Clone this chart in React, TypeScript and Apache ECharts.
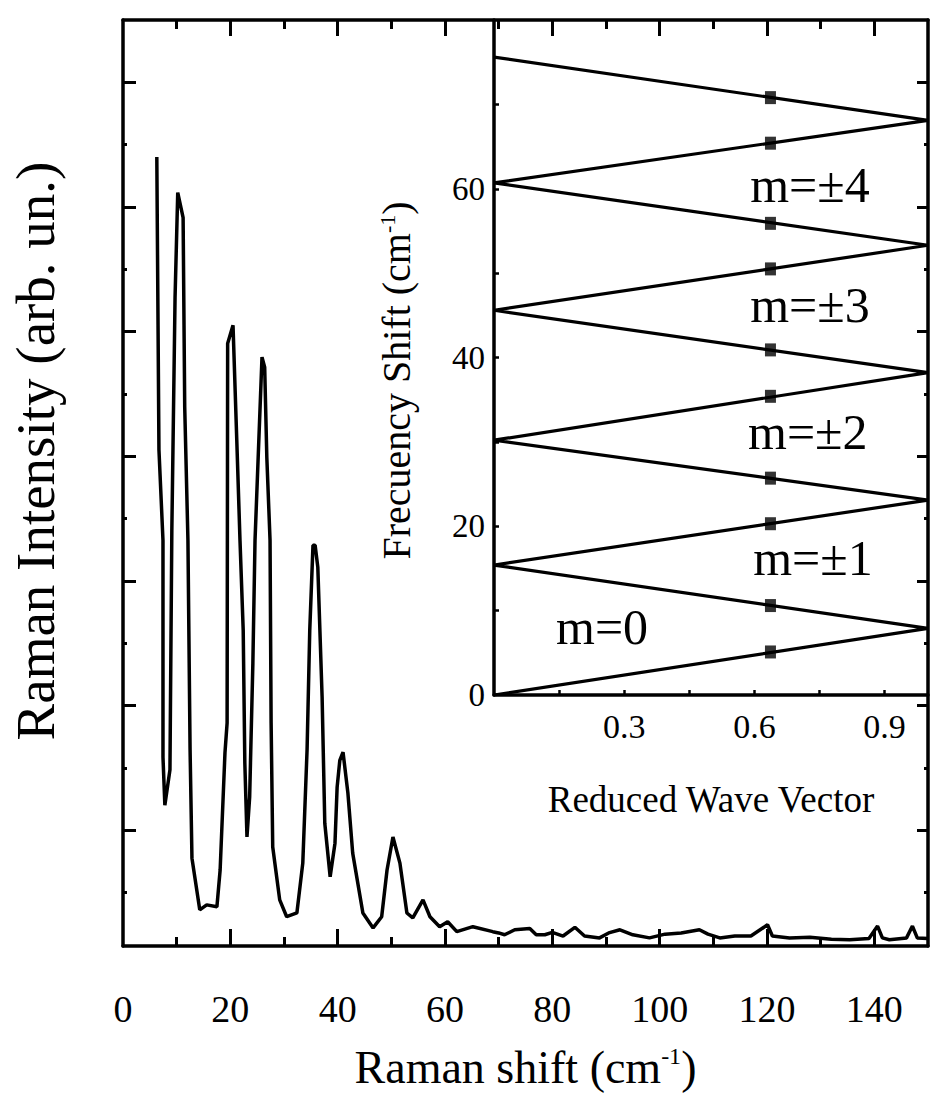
import React, { useEffect, useRef } from "react";
import * as echarts from "echarts";

// ---------- Main spectrum (Raman shift in cm^-1, intensity in arb. units) ----------
const ramanShift = [
  6.3, 6.7, 7.45, 7.45, 7.8, 8.75, 9.1, 9.7, 10.2, 11.2, 11.5, 12.1, 12.5, 12.85, 14.3, 15.6,
  17.5, 18.1, 19.0, 19.4, 19.5, 20.5, 21.2, 21.8, 22.4, 22.7, 23.1, 23.6, 24.2, 24.6, 25.9,
  26.4, 26.8, 27.4, 27.6, 27.9, 29.2, 30.5, 32.4, 33.5, 34.3, 34.8, 35.4, 35.8, 36.3, 37.1,
  37.6, 38.6, 39.5, 39.9, 40.4, 41.0, 41.9, 42.8, 44.7, 46.6, 48.2, 49.2, 50.3, 51.6, 52.9,
  54.0, 55.9, 57.2, 59.0, 60.5, 62.2, 65.2, 68.9, 70.0, 71.1, 73.0, 75.8, 77.0, 78.6, 80.0,
  82.0, 84.2, 86.0, 88.8, 90.5, 92.6, 95.0, 98.1, 101.0, 104.0, 107.4, 109.0, 111.2, 114.0,
  117.0, 120.1, 121.0, 124.2, 128.0, 132.0, 135.4, 139.0, 140.6, 141.5, 142.8, 146.0, 147.1,
  148.0, 150.0,
];
const ramanIntensity = [
  12.8, 8.1, 6.65, 3.17, 2.4, 2.97, 6.81, 10.55, 12.23, 11.83, 8.79, 6.65, 3.29, 1.55, 0.72, 0.8,
  0.77, 1.36, 3.24, 3.72, 9.81, 10.1, 8.26, 6.65, 5.2, 3.08, 1.89, 2.53, 4.68, 6.65, 9.59,
  9.43, 7.98, 6.65, 3.72, 1.73, 0.88, 0.61, 0.67, 1.47, 3.29, 5.21, 6.57, 6.57, 6.22, 4.14,
  2.11, 1.25, 1.79, 2.69, 3.12, 3.25, 2.6, 1.63, 0.67, 0.43, 0.61, 1.36, 1.89, 1.47, 0.67,
  0.59, 0.88, 0.61, 0.45, 0.53, 0.37, 0.45, 0.37, 0.35, 0.32, 0.4, 0.42, 0.32, 0.32, 0.36,
  0.3, 0.44, 0.3, 0.27, 0.35, 0.4, 0.32, 0.27, 0.33, 0.35, 0.4, 0.33, 0.27, 0.3,
  0.3, 0.48, 0.3, 0.27, 0.28, 0.25, 0.24, 0.26, 0.46, 0.27, 0.24, 0.27, 0.46,
  0.27, 0.26,
];
const shiftLabelValues = [0, 20, 40, 60, 80, 100, 120, 140];
const shiftMajorTicks = [20, 40, 60, 80, 100, 120, 140];
const shiftMinorTicks = [10, 30, 50, 70, 90, 110, 130];
const intensityMajorTicks = [2, 4, 6, 8, 10, 12, 14];
const intensityMinorTicks = [1, 3, 5, 7, 9, 11, 13];

// ---------- Inset: folded acoustic branches ----------
const branchWaveVector = [0, 1, 0, 1, 0, 1, 0, 1, 0, 1, 0];
const branchFrequency = [0, 7.9, 15.4, 23.1, 30.2, 38.2, 45.6, 53.3, 60.7, 68.1, 75.6];
const markerWaveVector = [0.637, 0.637, 0.637, 0.637, 0.637, 0.637, 0.637, 0.637, 0.637, 0.637];
const markerFrequency = [5.1, 10.6, 20.3, 25.7, 35.4, 40.9, 50.5, 55.9, 65.4, 70.8];
const modeNames = ["m=0", "m=\u00b11", "m=\u00b12", "m=\u00b13", "m=\u00b14"];
const modeWaveVector = [0.249, 0.735, 0.723, 0.728, 0.728];
const modeFrequency = [8.1, 16.2, 31.2, 46.2, 60.4];
const insetYLabels = [0, 20, 40, 60];
const insetYTicks = [10, 20, 30, 40, 50, 60, 70];
const insetXLabels = [0.3, 0.6, 0.9];
const insetXTicks = [0.15, 0.3, 0.45, 0.6, 0.75, 0.9];

const FONT = "'Liberation Serif', 'Times New Roman', serif";
const BLACK = "#000";

function hiddenAxisBits() {
  return { splitLine: { show: false }, axisLabel: { show: false } };
}

export default function App() {
  const ref = useRef<HTMLDivElement>(null);
  useEffect(() => {
    if (!ref.current) return;
    const chart = echarts.init(ref.current, null, { renderer: "svg" });
    const tickStyle = { color: BLACK, width: 3 };
    const lineStyle = { color: BLACK, width: 3.5 };

    const mainData = ramanShift.map((x, i) => [x, ramanIntensity[i]]);
    const branchData = branchWaveVector.map((q, i) => [q, branchFrequency[i]]);
    const markerData = markerWaveVector.map((q, i) => [q, markerFrequency[i]]);
    const modeData = modeNames.map((n, i) => ({ name: n, value: [modeWaveVector[i], modeFrequency[i]] }));

    const option: any = {
      animation: false,
      backgroundColor: "#fff",
      grid: [
        { left: 123, top: 20, width: 805, height: 926 },
        { left: 494, top: 20, width: 434, height: 675 },
      ],
      xAxis: [
        {
          gridIndex: 0, type: "value", min: 0, max: 150, position: "bottom",
          axisLine: { onZero: false, lineStyle },
          axisTick: { inside: true, length: 17, lineStyle: tickStyle, customValues: shiftMajorTicks },
          axisLabel: { customValues: shiftLabelValues, fontFamily: FONT, fontSize: 38, color: BLACK, margin: 44 },
          splitLine: { show: false },
          name: "Raman shift (cm{sup|-1})",
          nameLocation: "middle", nameGap: 98,
          nameTextStyle: {
            fontFamily: FONT, fontSize: 46, color: BLACK,
            rich: { sup: { fontFamily: FONT, fontSize: 24, color: BLACK, verticalAlign: "top", padding: [0, 0, 22, 0] } },
          },
        },
        {
          gridIndex: 0, type: "value", min: 0, max: 150, position: "bottom",
          axisLine: { show: false, onZero: false },
          axisTick: { inside: true, length: 9, lineStyle: tickStyle, customValues: shiftMinorTicks },
          ...hiddenAxisBits(),
        },
        {
          gridIndex: 0, type: "value", min: 0, max: 150, position: "top",
          axisLine: { onZero: false, lineStyle },
          axisTick: { inside: true, length: 16, lineStyle: tickStyle, customValues: shiftMajorTicks },
          ...hiddenAxisBits(),
        },
        {
          gridIndex: 0, type: "value", min: 0, max: 150, position: "top",
          axisLine: { show: false, onZero: false },
          axisTick: { inside: true, length: 9, lineStyle: tickStyle, customValues: shiftMinorTicks },
          ...hiddenAxisBits(),
        },
        {
          gridIndex: 1, type: "value", min: 0, max: 1, position: "bottom",
          axisLine: { onZero: false, lineStyle },
          axisTick: { inside: true, length: 5, lineStyle: { color: BLACK, width: 2.5 }, customValues: insetXTicks },
          axisLabel: { customValues: insetXLabels, fontFamily: FONT, fontSize: 34, color: BLACK, margin: 14, formatter: (v: number) => v.toFixed(1) },
          splitLine: { show: false },
          name: "Reduced Wave Vector",
          nameLocation: "middle", nameGap: 86,
          nameTextStyle: { fontFamily: FONT, fontSize: 37, color: BLACK },
        },
      ],
      yAxis: [
        {
          gridIndex: 0, type: "value", min: 0.14, max: 15, position: "left",
          axisLine: { onZero: false, lineStyle },
          axisTick: { inside: true, length: 13, lineStyle: tickStyle, customValues: intensityMajorTicks },
          ...hiddenAxisBits(),
          name: "Raman Intensity (arb. un.)",
          nameLocation: "middle", nameGap: 60, nameRotate: 90,
          nameTextStyle: { fontFamily: FONT, fontSize: 55, color: BLACK, padding: [0, 0, 0, 64] },
        },
        {
          gridIndex: 0, type: "value", min: 0.14, max: 15, position: "left",
          axisLine: { show: false, onZero: false },
          axisTick: { inside: true, length: 4, lineStyle: tickStyle, customValues: intensityMinorTicks },
          ...hiddenAxisBits(),
        },
        {
          gridIndex: 0, type: "value", min: 0.14, max: 15, position: "right",
          axisLine: { onZero: false, lineStyle },
          axisTick: { inside: true, length: 11, lineStyle: tickStyle, customValues: intensityMajorTicks },
          ...hiddenAxisBits(),
        },
        {
          gridIndex: 0, type: "value", min: 0.14, max: 15, position: "right",
          axisLine: { show: false, onZero: false },
          axisTick: { inside: true, length: 4, lineStyle: tickStyle, customValues: intensityMinorTicks },
          ...hiddenAxisBits(),
        },
        {
          gridIndex: 1, type: "value", min: 0, max: 80, position: "left",
          axisLine: { onZero: false, lineStyle },
          axisTick: { inside: true, length: 5, lineStyle: { color: BLACK, width: 2.5 }, customValues: insetYTicks },
          axisLabel: { customValues: insetYLabels, fontFamily: FONT, fontSize: 33, color: BLACK, margin: 9 },
          splitLine: { show: false },
          name: "Frecuency Shift (cm{sup|-1})",
          nameLocation: "middle", nameGap: 78, nameRotate: 90,
          nameTextStyle: {
            fontFamily: FONT, fontSize: 40, color: BLACK, padding: [0, 46, 0, 0],
            rich: { sup: { fontFamily: FONT, fontSize: 22, color: BLACK, verticalAlign: "top", padding: [0, 0, 18, 0] } },
          },
        },
      ],
      series: [
        {
          type: "line", xAxisIndex: 0, yAxisIndex: 0, data: mainData,
          showSymbol: false, symbol: "none", lineStyle: { color: BLACK, width: 3.5 },
        },
        {
          type: "line", xAxisIndex: 4, yAxisIndex: 4, data: branchData,
          showSymbol: false, symbol: "none", lineStyle: { color: BLACK, width: 3.2 },
        },
        {
          type: "scatter", xAxisIndex: 4, yAxisIndex: 4, data: markerData,
          symbol: "rect", symbolSize: [11, 13], itemStyle: { color: BLACK },
        },
        {
          type: "scatter", xAxisIndex: 4, yAxisIndex: 4, data: modeData,
          symbolSize: 1, itemStyle: { color: "rgba(255,255,255,0)" },
          label: {
            show: true, position: "inside", formatter: "{b}", fontFamily: FONT, fontSize: 50,
            color: BLACK, textBorderWidth: 0, opacity: 1,
          },
        },
      ],
    };
    chart.setOption(option);
    return () => chart.dispose();
  }, []);
  return (
    <div
      ref={ref}
      style={{ position: "fixed", left: 0, top: 0, width: 931, height: 1100, background: "#fff" }}
    />
  );
}
